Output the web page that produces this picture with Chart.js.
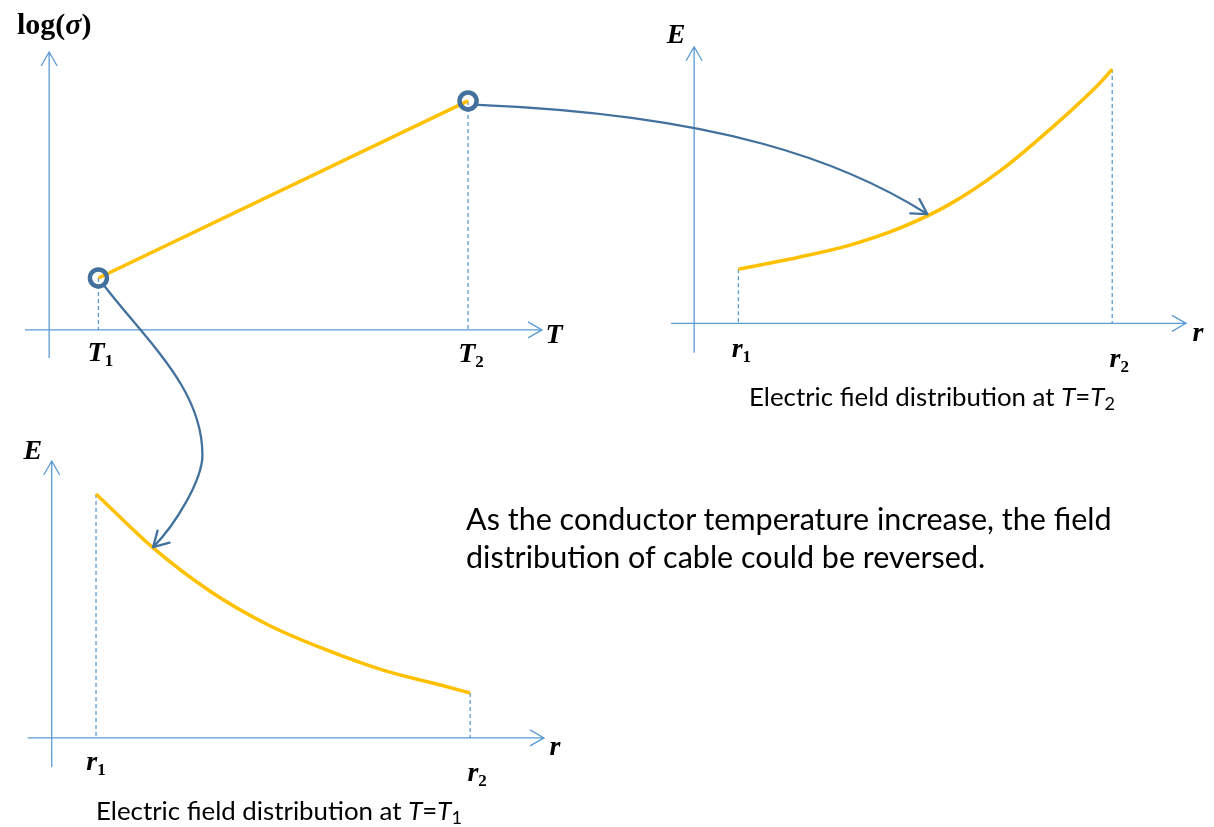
<!DOCTYPE html>
<html>
<head>
<meta charset="utf-8">
<title>Field reversal in cable</title>
<script src="https://cdn.jsdelivr.net/npm/chart.js@4.4.1/dist/chart.umd.min.js"></script>
<style>
  html, body { margin: 0; padding: 0; background: #fff; }
  #stage { position: relative; width: 1214px; height: 827px; overflow: hidden; }
  #stage canvas { position: absolute; left: 0; top: 0; }
  .sym {
    position: absolute; transform: translate(-50%, -50%);
    font-family: "Liberation Serif", serif; font-style: italic; font-weight: bold;
    font-size: 28px; line-height: 1; color: #000; white-space: nowrap;
  }
  .sym sub { font-style: normal; font-size: 17px; line-height: 0; vertical-align: -5px; }
  .sym .up { font-style: normal; }
  .sym.big { font-size: 30px; }
  .cap {
    position: absolute; font-family: Lato, sans-serif; font-size: 21px;
    line-height: 1; color: #000; white-space: nowrap;
  }
  .cap sub { font-size: 70%; line-height: 0; vertical-align: -4px; }
  #note {
    position: absolute; left: 466px; top: 500px;
    font-family: Lato, sans-serif; font-size: 28px; line-height: 37.6px; color: #000;
    white-space: nowrap;
  }
</style>
</head>
<body>
<div id="stage">
  <canvas id="sigmaChart" width="1214" height="827"></canvas>
  <canvas id="hotChart" width="1214" height="827"></canvas>
  <canvas id="coldChart" width="1214" height="827"></canvas>
  <canvas id="links" width="1214" height="827"></canvas>
  <div id="note"><span id="noteLine1">As the conductor temperature increase, the field</span><br>distribution of cable could be reversed.</div>
</div>

<script>
// log(sigma) against temperature, two operating points
const tempPoints = [1.0, 8.5];          // T1, T2
const logSigma = [1.87, 8.24];

// field along the insulation at T = T2 (field peaks at the outer radius)
const radiusHot = [0.9, 2.15, 3.17, 4.19, 5.2, 6.22, 7.24, 8.25, 8.5];
const fieldHot = [1.96, 2.40, 2.83, 3.45, 4.31, 5.51, 7.02, 8.69, 9.19];

// field along the insulation at T = T1 (classic decay from the conductor)
const radiusCold = [0.9, 2.06, 3.24, 4.4, 5.58, 6.73, 7.9, 8.5];
const fieldCold = [8.81, 6.86, 5.27, 4.08, 3.18, 2.45, 1.91, 1.62];

const YELLOW = '#FFC000';
const AXIS_BLUE = '#5B9BD5';
const DARK_BLUE = '#41719C';

const stage = document.getElementById('stage');

function toXY(xs, ys) {
  return xs.map((x, i) => ({ x: x, y: ys[i] }));
}

// axes with open arrow tips plus dashed drop lines to the r / T axis
const axisArrows = {
  id: 'axisArrows',
  beforeDatasetsDraw(chart, args, opts) {
    const { ctx } = chart;
    const x = chart.scales.x, y = chart.scales.y;
    const ox = x.getPixelForValue(0), oy = y.getPixelForValue(0);
    ctx.save();
    ctx.strokeStyle = AXIS_BLUE;
    ctx.lineWidth = 1.3;

    ctx.setLineDash([4, 3]);
    (opts.drops || []).forEach(p => {
      const px = x.getPixelForValue(p.x);
      ctx.beginPath();
      ctx.moveTo(px, y.getPixelForValue(p.y));
      ctx.lineTo(px, oy);
      ctx.stroke();
    });
    ctx.setLineDash([]);

    const xl = x.getPixelForValue(x.min), xr = x.getPixelForValue(x.max);
    const yb = y.getPixelForValue(y.min), yt = y.getPixelForValue(y.max);
    ctx.beginPath();
    ctx.moveTo(xl, oy); ctx.lineTo(xr, oy);
    ctx.moveTo(xr - 14, oy - 8); ctx.lineTo(xr, oy); ctx.lineTo(xr - 14, oy + 8);
    ctx.moveTo(ox, yb); ctx.lineTo(ox, yt);
    ctx.moveTo(ox - 8, yt + 14); ctx.lineTo(ox, yt); ctx.lineTo(ox + 8, yt + 14);
    ctx.stroke();
    ctx.restore();
  }
};

function makeChart(id, area, xMin, yMin, datasets, drops) {
  return new Chart(document.getElementById(id), {
    type: 'line',
    data: { datasets: datasets },
    options: {
      responsive: false,
      animation: false,
      events: [],
      layout: {
        padding: { left: area.l, top: area.t, right: 1214 - area.r, bottom: 827 - area.b }
      },
      scales: {
        x: { type: 'linear', min: xMin, max: 10, display: false },
        y: { type: 'linear', min: yMin, max: 10, display: false }
      },
      plugins: {
        legend: { display: false },
        tooltip: { enabled: false },
        axisArrows: { drops: drops }
      }
    },
    plugins: [axisArrows]
  });
}

const sigmaPts = toXY(tempPoints, logSigma);
const hotPts = toXY(radiusHot, fieldHot);
const coldPts = toXY(radiusCold, fieldCold);

const sigmaChart = makeChart('sigmaChart', { l: 25, r: 542, t: 52, b: 358 }, -0.49, -1.01, [
  {
    data: sigmaPts, showLine: false,
    pointRadius: 8.5, pointBorderWidth: 4.5,
    pointBorderColor: DARK_BLUE, pointBackgroundColor: 'rgba(0,0,0,0)'
  },
  { data: sigmaPts, borderColor: YELLOW, borderWidth: 3.5, pointRadius: 0 }
], sigmaPts);

const curveStyle = {
  borderColor: YELLOW, borderWidth: 3.5, pointRadius: 0,
  cubicInterpolationMode: 'monotone'
};

const hotChart = makeChart('hotChart', { l: 671, r: 1186, t: 46.7, b: 352.7 }, -0.47, -1.06, [
  Object.assign({ data: hotPts }, curveStyle)
], [hotPts[0], hotPts[hotPts.length - 1]]);

const coldChart = makeChart('coldChart', { l: 27.6, r: 544, t: 461, b: 767 }, -0.49, -1.05, [
  Object.assign({ data: coldPts }, curveStyle)
], [coldPts[0], coldPts[coldPts.length - 1]]);

function pix(chart, p) {
  return { x: chart.scales.x.getPixelForValue(p.x), y: chart.scales.y.getPixelForValue(p.y) };
}

// symbols next to the axes
function sym(html, x, y, cls) {
  const el = document.createElement('div');
  el.className = 'sym' + (cls ? ' ' + cls : '');
  el.innerHTML = html;
  el.style.left = x + 'px';
  el.style.top = y + 'px';
  stage.appendChild(el);
  return el;
}

function axisLabels(chart, items) {
  const x = chart.scales.x, y = chart.scales.y;
  const ox = x.getPixelForValue(0), oy = y.getPixelForValue(0);
  items.forEach(it => {
    let ax, ay;
    if (it.at === 'xend') { ax = x.getPixelForValue(x.max); ay = oy; }
    else if (it.at === 'yend') { ax = ox; ay = y.getPixelForValue(y.max); }
    else { ax = x.getPixelForValue(it.at); ay = oy; }
    sym(it.html, ax + it.dx, ay + it.dy, it.cls);
  });
}

axisLabels(sigmaChart, [
  { html: '<span class="up">log(</span>σ<span class="up">)</span>', at: 'yend', dx: 5, dy: -28, cls: 'big' },
  { html: 'T', at: 'xend', dx: 12, dy: 4 },
  { html: 'T<sub>1</sub>', at: tempPoints[0], dx: 2, dy: 22 },
  { html: 'T<sub>2</sub>', at: tempPoints[1], dx: 3, dy: 23 }
]);
axisLabels(hotChart, [
  { html: 'E', at: 'yend', dx: -18, dy: -13 },
  { html: 'r', at: 'xend', dx: 12, dy: 9 },
  { html: 'r<sub>1</sub>', at: radiusHot[0], dx: 3, dy: 25 },
  { html: 'r<sub>2</sub>', at: radiusHot[radiusHot.length - 1], dx: 7, dy: 35 }
]);
axisLabels(coldChart, [
  { html: 'E', at: 'yend', dx: -19, dy: -11 },
  { html: 'r', at: 'xend', dx: 11, dy: 8 },
  { html: 'r<sub>1</sub>', at: radiusCold[0], dx: 0, dy: 23 },
  { html: 'r<sub>2</sub>', at: radiusCold[radiusCold.length - 1], dx: 7, dy: 34 }
]);

function fitWidth(el, target) {
  const w = el.getBoundingClientRect().width;
  const fs = parseFloat(getComputedStyle(el).fontSize);
  el.style.fontSize = (fs * target / w) + 'px';
}

function caption(sub, left, top) {
  const el = document.createElement('div');
  el.className = 'cap';
  el.innerHTML = 'Electric field distribution at <i>T</i>=<i>T</i><sub>' + sub + '</sub>';
  el.style.left = left + 'px';
  el.style.top = top + 'px';
  stage.appendChild(el);
  fitWidth(el, 366);
}
caption('2', 749, 384);
caption('1', 96, 798);

const note = document.getElementById('note');
const line1 = document.getElementById('noteLine1');
const w1 = line1.getBoundingClientRect().width;
note.style.fontSize = (28 * 646 / w1) + 'px';

// curved links from the operating points to the matching field plots
const lc = document.getElementById('links').getContext('2d');
lc.strokeStyle = DARK_BLUE;
lc.lineWidth = 2.3;
lc.lineCap = 'round';
lc.lineJoin = 'round';

function arrowHead(tip, from) {
  const a = Math.atan2(tip.y - from.y, tip.x - from.x);
  const len = 17, spread = Math.PI / 6;
  lc.beginPath();
  lc.moveTo(tip.x - len * Math.cos(a - spread), tip.y - len * Math.sin(a - spread));
  lc.lineTo(tip.x, tip.y);
  lc.lineTo(tip.x - len * Math.cos(a + spread), tip.y - len * Math.sin(a + spread));
  lc.stroke();
}

// T2 -> field at T2
{
  const c = pix(sigmaChart, sigmaPts[1]);
  const s = { x: c.x + 10, y: c.y + 4 };
  const e = pix(hotChart, { x: 4.74, y: 3.95 });
  const c1 = { x: s.x + 242, y: s.y + 10 };
  const c2 = { x: e.x - 82, y: e.y - 52 };
  lc.beginPath();
  lc.moveTo(s.x, s.y);
  lc.bezierCurveTo(c1.x, c1.y, c2.x, c2.y, e.x, e.y);
  lc.stroke();
  arrowHead(e, c2);
}

// T1 -> field at T1
{
  const c = pix(sigmaChart, sigmaPts[0]);
  const s = { x: c.x + 6, y: c.y + 8 };
  const m = { x: s.x + 98, y: s.y + 169 };
  const e = pix(coldChart, { x: 2.06, y: 6.89 });
  const c2 = { x: e.x + 22, y: e.y - 22 };
  lc.beginPath();
  lc.moveTo(s.x, s.y);
  lc.bezierCurveTo(s.x + 45, s.y + 58, m.x, m.y - 65, m.x, m.y);
  lc.bezierCurveTo(m.x, m.y + 25, c2.x, c2.y, e.x, e.y);
  lc.stroke();
  arrowHead(e, c2);
}
</script>
</body>
</html>
